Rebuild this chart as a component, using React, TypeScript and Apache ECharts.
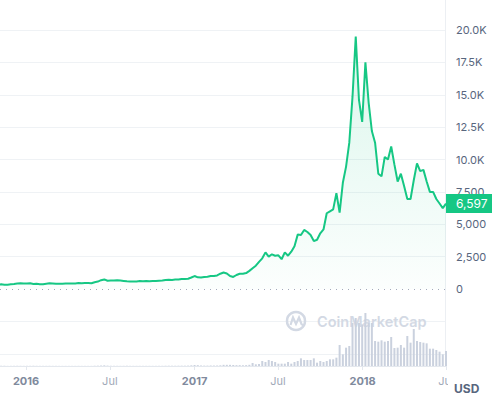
import React, { useEffect, useRef } from 'react';
import * as echarts from 'echarts';

// Weekly samples (Sundays) starting 2015-11-01
const START_DATE = Date.UTC(2015, 10, 1);
const WEEK_MS = 7 * 24 * 3600 * 1000;

// Price in USD, one value per week
const PRICE_USD = [
  // 2015 Nov-Dec
  320, 360, 320, 325, 360, 390, 430, 440, 420,
  // 2016
  430, 445, 385, 400, 370,
  375, 405, 435, 430,
  405, 412, 410, 420,
  420, 420, 428, 455,
  450, 458, 455, 440, 525,
  575, 680, 740, 640,
  660, 650, 675, 660, 625,
  590, 570, 580, 575,
  610, 605, 610, 600,
  610, 618, 640, 655, 700,
  710, 700, 730, 730,
  765, 770, 790, 890,
  // 2017
  1000, 900, 880, 920, 950,
  1010, 1000, 1050, 1180,
  1270, 1200, 1000, 930,
  1080, 1180, 1180, 1230, 1400,
  1600, 1800, 2100, 2370,
  2830, 2500, 2680, 2570,
  2600, 2300, 2830, 2570, 2880,
  3300, 4200, 4170, 4560,
  4400, 4170, 3700, 3800,
  4300, 4600, 5850, 6000, 6150,
  7400, 5900, 8200, 9450,
  11300, 14850, 19500, 14600, 12900,
  // 2018
  17500, 14400, 12200, 11300,
  8900, 8700, 10200, 10000,
  11000, 9600, 8300, 8900,
  7950, 6950, 6950, 8400, 9700,
  9100, 9200, 8300, 7500,
  7500, 6950, 6600, 6250,
  6597,
];

// Volume (billion USD), one value per week
const VOLUME_BN = [
  0.05, 0.09, 0.06, 0.04, 0.05, 0.06, 0.07, 0.06, 0.05,
  0.06, 0.06, 0.08, 0.06, 0.05,
  0.05, 0.05, 0.06, 0.05,
  0.05, 0.04, 0.04, 0.04,
  0.04, 0.04, 0.04, 0.05,
  0.04, 0.04, 0.04, 0.04, 0.08,
  0.1, 0.14, 0.2, 0.12,
  0.07, 0.06, 0.06, 0.05, 0.06,
  0.08, 0.05, 0.05, 0.05,
  0.05, 0.05, 0.05, 0.05,
  0.05, 0.05, 0.06, 0.06, 0.08,
  0.09, 0.08, 0.08, 0.09,
  0.1, 0.1, 0.12, 0.2,
  0.3, 0.25, 0.15, 0.12, 0.12,
  0.15, 0.14, 0.15, 0.2,
  0.35, 0.35, 0.35, 0.3,
  0.25, 0.25, 0.22, 0.25, 0.36,
  0.9, 0.5, 0.6, 1.5,
  1.2, 1.8, 1.5, 1.2,
  0.7, 0.7, 0.7, 1.2, 0.7,
  1.2, 1.5, 2.3, 1.8,
  1.8, 1.8, 2.3, 1.0,
  1.5, 1.2, 1.5, 2.0, 2.0,
  2.5, 6.3, 3.5, 5.5,
  6.0, 12.9, 14.4, 12.9, 12.5,
  15.9, 12.9, 12.9, 7.5,
  7.3, 7.7, 7.3, 7.5,
  8.7, 5.4, 5.5, 6.3,
  5.5, 9.0, 7.0, 11.1, 7.5,
  7.2, 7.0, 6.8, 5.2,
  5.2, 4.8, 4.3, 3.5,
  4.5,
];

const X_TICK_DATES = ['2016-01-01', '2016-07-01', '2017-01-01', '2017-07-01', '2018-01-01', '2018-07-01'];
const MONTHS = ['Jan', 'Feb', 'Mar', 'Apr', 'May', 'Jun', 'Jul', 'Aug', 'Sep', 'Oct', 'Nov', 'Dec'];
const X_MIN = Date.UTC(2015, 10, 5, 12);
const X_MAX = Date.UTC(2018, 6, 1);
const Y_MIN = -5000;
const Y_MAX = 20000;
const Y_STEP = 2500;
const VOL_MAX = 22.8;

const FONT = 'Inter, "Noto Sans", sans-serif';
const GREEN = '#16c784';
const GRID_COLOR = '#eff2f5';

export default function App() {
  const ref = useRef<HTMLDivElement>(null);

  useEffect(() => {
    if (!ref.current) return;
    const chart = echarts.init(ref.current, undefined, { renderer: 'svg' });
    const dates = PRICE_USD.map((_, i) => START_DATE + i * WEEK_MS);
    const priceData = PRICE_USD.map((v, i) => [dates[i], v]);
    const volData = VOLUME_BN.map((v, i) => [dates[i], v]);
    const xTicks = X_TICK_DATES.map((d) => Date.parse(d));
    const lastPrice = PRICE_USD[PRICE_USD.length - 1];

    const nTicks = Math.round((Y_MAX - Y_MIN) / Y_STEP) + 1;
    const splitColors: string[] = [];
    for (let i = 0; i < nTicks; i++) {
      const v = Y_MIN + i * Y_STEP;
      splitColors.push(v === 0 ? 'rgba(0,0,0,0)' : GRID_COLOR);
    }

    chart.setOption({
      animation: false,
      grid: [
        { left: 0, right: 46, top: 30, bottom: 45.25 },
        { left: 0, right: 46, top: 290, bottom: 33 },
      ],
      xAxis: [
        {
          type: 'value', gridIndex: 0, min: X_MIN, max: X_MAX, show: false,
          splitLine: { show: false },
        },
        {
          type: 'value', gridIndex: 1, min: X_MIN, max: X_MAX,
          splitLine: { show: false },
          axisLine: { show: true, lineStyle: { color: '#e4e8ee', width: 1 } },
          axisTick: { show: true, customValues: xTicks, length: 4, lineStyle: { color: '#e4e8ee' } },
          axisLabel: {
            customValues: xTicks,
            margin: 9,
            formatter: (v: number) => {
              const d = new Date(v);
              const m = d.getUTCMonth();
              return m === 0 ? '{y|' + d.getUTCFullYear() + '}' : '{m|' + MONTHS[m] + '}';
            },
            rich: {
              y: { fontFamily: FONT, fontSize: 11, fontWeight: 'bold', color: '#808a9d' },
              m: { fontFamily: FONT, fontSize: 11, color: '#a1a9b8' },
            },
          },
        },
      ],
      yAxis: [
        {
          type: 'value', gridIndex: 0, position: 'right', min: Y_MIN, max: Y_MAX, interval: Y_STEP,
          axisLine: { show: false }, axisTick: { show: false },
          splitLine: { show: true, lineStyle: { color: splitColors, width: 1 } },
          axisLabel: {
            margin: 10, fontFamily: FONT, fontSize: 11, color: '#58667e',
            formatter: (v: number) => {
              if (v < 0) return '';
              if (v >= 10000) return (v / 1000).toFixed(1) + 'K';
              return v.toLocaleString('en-US');
            },
          },
        },
        {
          type: 'value', gridIndex: 1, min: 0, max: VOL_MAX, show: false,
          splitLine: { show: false },
        },
      ],
      series: [
        {
          type: 'bar', xAxisIndex: 1, yAxisIndex: 1, data: volData, barWidth: 2,
          itemStyle: { color: '#cad1de' }, silent: true, z: 2,
        },
        {
          type: 'line', xAxisIndex: 0, yAxisIndex: 0, data: priceData,
          showSymbol: false, symbol: 'none',
          lineStyle: { color: GREEN, width: 2 },
          itemStyle: { color: GREEN },
          areaStyle: {
            color: {
              type: 'linear', x: 0, y: 0, x2: 0, y2: 1,
              colorStops: [
                { offset: 0, color: 'rgba(22,199,132,0.22)' },
                { offset: 1, color: 'rgba(22,199,132,0.02)' },
              ],
            },
          },
          z: 3,
          markLine: {
            silent: true,
            symbol: ['none', 'none'],
            data: [
              {
                yAxis: 0,
                lineStyle: { color: '#a3abbb', type: [1, 5], width: 1 },
                label: { show: false },
              },
              {
                yAxis: lastPrice,
                lineStyle: { color: 'rgba(0,0,0,0)', width: 0 },
                label: {
                  show: true, position: 'end', distance: 0,
                  formatter: (p: any) => Number(p.value).toLocaleString('en-US'),
                  color: '#ffffff', backgroundColor: GREEN, opacity: 1,
                  padding: [3, 14, 3, 10], fontFamily: FONT, fontSize: 12, lineHeight: 13,
                },
              },
            ],
          },
        },
      ],
      graphic: [
        {
          type: 'line', z: 1, silent: true,
          shape: { x1: 445.5, y1: 0, x2: 445.5, y2: 366 },
          style: { stroke: '#eceff3', lineWidth: 1 },
        },
        {
          type: 'circle', z: 1, silent: true,
          shape: { cx: 296, cy: 321, r: 9 },
          style: { fill: 'none', stroke: '#d3d9e4', lineWidth: 2.5 },
        },
        {
          type: 'polyline', z: 1, silent: true,
          shape: { points: [[290.5, 325], [293, 317.5], [296, 324], [299, 317.5], [301.5, 324], [304, 326]] },
          style: { fill: 'none', stroke: '#d3d9e4', lineWidth: 2.2 },
        },
        {
          type: 'text', z: 1, silent: true, x: 317, y: 321,
          style: {
            text: 'CoinMarketCap', fontFamily: FONT, fontSize: 14.5, fontWeight: 600,
            fill: '#d3d9e4', verticalAlign: 'middle', align: 'left',
          },
        },
        {
          type: 'rect', z: 100, silent: true,
          shape: { x: 448, y: 369, width: 44, height: 30 },
          style: { fill: '#ffffff' },
        },
        {
          type: 'text', z: 101, silent: true, x: 454, y: 388,
          style: {
            text: 'USD', fontFamily: FONT, fontSize: 12, fontWeight: 'bold',
            fill: '#58667e', verticalAlign: 'middle', align: 'left',
          },
        },
      ],
    });
    return () => chart.dispose();
  }, []);

  return (
    <div
      ref={ref}
      style={{ position: 'absolute', left: 0, top: 0, width: 492, height: 399, background: '#ffffff' }}
    />
  );
}
